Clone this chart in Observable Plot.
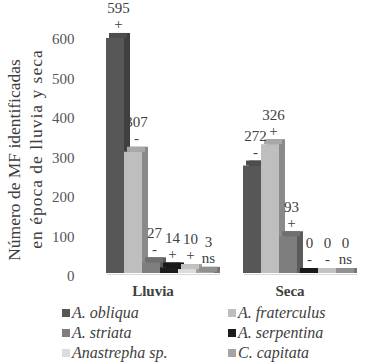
<!DOCTYPE html>
<html>
<head>
<meta charset="utf-8">
<script src="https://cdn.jsdelivr.net/npm/d3@7"></script>
<script src="https://cdn.jsdelivr.net/npm/@observablehq/plot@0.6"></script>
<style>
  html, body { margin: 0; padding: 0; background: #fff; }
  #wrap { width: 384px; height: 364px; position: relative; font-family: "Liberation Serif", "Times New Roman", "DejaVu Serif", serif; }
  #chart svg { display: block; }
  #chart svg, #chart svg text { font-family: "Liberation Serif", "Times New Roman", "DejaVu Serif", serif !important; }
  #legend { position: absolute; left: 0; top: 303px; width: 384px; }
  .row { height: 20px; line-height: 20px; position: relative; }
  .item { position: absolute; top: 0; font-family: "Liberation Serif", "Times New Roman", "DejaVu Serif", serif; font-style: italic; font-size: 16px; color: #404040; white-space: nowrap; }
  .sw { display: inline-block; width: 8px; height: 8px; margin-right: 2px; vertical-align: 1px; }
</style>
</head>
<body>
<div id="wrap">
  <div id="chart"></div>
  <div id="legend"></div>
</div>
<script>
const groups = ["Lluvia", "Seca"];
const species = ["A. obliqua", "A. fraterculus", "A. striata", "A. serpentina", "Anastrepha sp.", "C. capitata"];
const lluviaValues = [595, 307, 27, 14, 10, 3];
const secaValues = [272, 326, 93, 0, 0, 0];
const lluviaSigns = ["+", "-", "-", "+", "+", "ns"];
const secaSigns = ["-", "+", "+", "-", "-", "ns"];
const yTicks = [0, 100, 200, 300, 400, 500, 600];
const yTitle = ["Número de MF identificadas", "en época de lluvia y seca"];

const speciesColors = ["#575757", "#bebebe", "#7e7e7e", "#1c1c1c", "#dcdcdc", "#a4a4a4"];
const colorOf = new Map(species.map((s, i) => [s, speciesColors[i]]));
const sideOf = s => d3.color(colorOf.get(s)).darker(0.9).formatHex();
const topOf = s => d3.color(colorOf.get(s)).darker(0.35).formatHex();

const data = [];
species.forEach((s, i) => {
  data.push({group: groups[0], species: s, value: lluviaValues[i], sign: lluviaSigns[i]});
});
species.forEach((s, i) => {
  data.push({group: groups[1], species: s, value: secaValues[i], sign: secaSigns[i]});
});

// per-line offsets of the two-line y title (relative to the first facet's left edge / frame middle)
const titleOffsets = [[-89, 5, 0], [-67, -6, 1]];
const titleData = yTitle.map(t => ({g: groups[0], t}));

const plot = Plot.plot({
  width: 384,
  height: 300,
  marginLeft: 102,
  marginRight: 30,
  marginTop: 36,
  marginBottom: 27,
  style: {background: "#fff"},
  fx: {domain: groups, paddingInner: 0.1739, paddingOuter: 0, label: null},
  x: {domain: species, padding: 0, axis: null},
  y: {domain: [0, 600], axis: null},
  color: {type: "identity"},
  marks: [
    Plot.ruleY([0], {stroke: "#d8d8d8", dy: 1, dx: 4}),
    // side faces
    Plot.barY(data, {fx: "group", x: "species", y: "value", fill: d => sideOf(d.species), dx: 6, insetTop: -5}),
    // top faces
    Plot.barY(data, {fx: "group", x: "species", y1: "value", y2: "value", fill: d => topOf(d.species), dx: 3, insetTop: -5}),
    // front faces
    Plot.barY(data, {fx: "group", x: "species", y: "value", fill: d => colorOf.get(d.species)}),
    Plot.text(data, {fx: "group", x: "species", y: "value", text: d => String(d.value), dy: -30, dx: 3, fontSize: 15, fill: "#404040"}),
    Plot.text(data, {fx: "group", x: "species", y: "value", text: "sign", dy: -14, dx: 3, fontSize: 15, fill: "#404040"}),
    Plot.axisY({ticks: yTicks, tickSize: 0, tickPadding: 29, dy: 3, fontSize: 15, fill: "#555555", label: null, tickFormat: d => String(d)}),
    Plot.axisFx({anchor: "bottom", tickSize: 0, tickPadding: 12, dx: -7, fontSize: 15, fontWeight: "bold", fill: "#404040", label: null}),
    Plot.text(titleData, {fx: "g", frameAnchor: "left", textAnchor: "middle", text: "t", rotate: -90, fontSize: 17.5, fill: "#404040"})
  ]
});
document.getElementById("chart").appendChild(plot);

// position the y title lines (offset per line)
plot.querySelectorAll("text").forEach(el => {
  const i = yTitle.indexOf(el.textContent);
  if (i >= 0) {
    const [ox, oy, ls] = titleOffsets[i];
    const tr = el.getAttribute("transform") || "";
    el.setAttribute("transform", `translate(${ox},${oy}) ` + tr);
    if (ls) el.setAttribute("letter-spacing", ls);
  }
});

// legend (two columns, row-wise order)
const legend = document.getElementById("legend");
for (let r = 0; r < 3; r++) {
  const row = document.createElement("div");
  row.className = "row";
  [0, 1].forEach(c => {
    const i = r * 2 + c;
    const item = document.createElement("span");
    item.className = "item";
    item.style.left = (c === 0 ? 62 : 228) + "px";
    const sw = document.createElement("span");
    sw.className = "sw";
    sw.style.background = speciesColors[i];
    item.appendChild(sw);
    item.appendChild(document.createTextNode(species[i]));
    row.appendChild(item);
  });
  legend.appendChild(row);
}
</script>
</body>
</html>
